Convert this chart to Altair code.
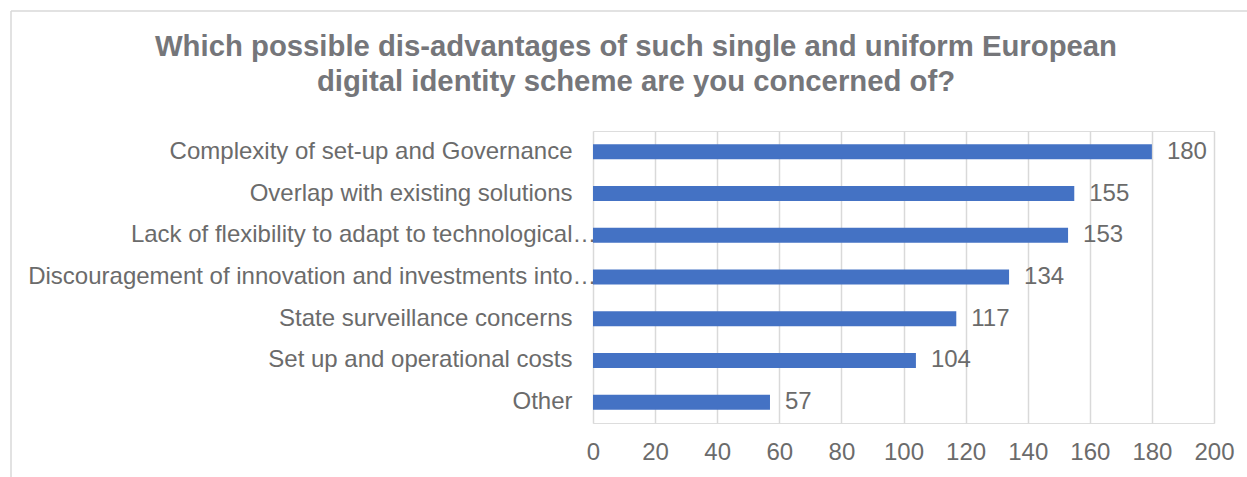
import altair as alt
import pandas as pd

categories = [
    "Complexity of set-up and Governance",
    "Overlap with existing solutions",
    "Lack of flexibility to adapt to technological…",
    "Discouragement of innovation and investments into…",
    "State surveillance concerns",
    "Set up and operational costs",
    "Other",
]
values = [180, 155, 153, 134, 117, 104, 57]
x_ticks = [0, 20, 40, 60, 80, 100, 120, 140, 160, 180, 200]
title_lines = [
    "Which possible dis-advantages of such single and uniform European",
    "digital identity scheme are you concerned of?",
]

df = pd.DataFrame({"category": categories, "value": values})

FONT = "Liberation Sans"
LABEL_COLOR = "#6b6b6b"
GRID = "#d9d9d9"

base = alt.Chart(df)

y_enc = alt.Y(
    "category:N",
    sort=categories,
    scale=alt.Scale(paddingInner=0.64, paddingOuter=0.32),
    axis=alt.Axis(
        title=None, domain=False, ticks=False, labelFontSize=24,
        labelFont=FONT, labelColor=LABEL_COLOR,
        labelPadding={
            "condition": {"test": "indexof(datum.label, '…') >= 0", "value": -3},
            "value": 21,
        },
        labelLimit=700,
    ),
)
x_enc = alt.X(
    "value:Q",
    scale=alt.Scale(domain=[0, 200], nice=False),
    axis=alt.Axis(
        title=None, values=x_ticks, domain=False, ticks=False,
        labelFontSize=24, labelFont=FONT, labelColor=LABEL_COLOR,
        labelPadding=17, labelFlush=False, grid=True, gridColor=GRID,
        gridWidth=1.5,
    ),
)

bars = base.mark_bar(color="#4472C4").encode(x=x_enc, y=y_enc)
labels = base.mark_text(
    align="left", baseline="middle", dx=15, fontSize=24, font=FONT,
    color=LABEL_COLOR,
).encode(x="value:Q", y=alt.Y("category:N", sort=categories), text="value:Q")

frame_df = pd.DataFrame({"a": [0]})
left_line = alt.Chart(frame_df).mark_rule(color=GRID, strokeWidth=1.5).encode(
    x=alt.value(-582), y=alt.value(-120), y2=alt.value(400)
)
top_line = alt.Chart(frame_df).mark_rule(color=GRID, strokeWidth=1.5).encode(
    x=alt.value(-582), x2=alt.value(700), y=alt.value(-120)
)

chart = alt.layer(left_line, top_line, bars, labels).properties(
    width=621,
    height=292,
    autosize=alt.AutoSizeParams(type="none"),
    padding={"left": 593, "top": 131, "right": 33, "bottom": 54},
    title=alt.TitleParams(
        text=title_lines, anchor="middle", frame="group", dx=-267.5,
        fontSize=29.3, font=FONT, fontWeight="bold", color="#75767a",
        lineHeight=35, offset=0, dy=87,
    ),
).configure_view(stroke=None).configure(background="white")

chart.save("out.html", embed_options={"renderer": "svg", "actions": False})
